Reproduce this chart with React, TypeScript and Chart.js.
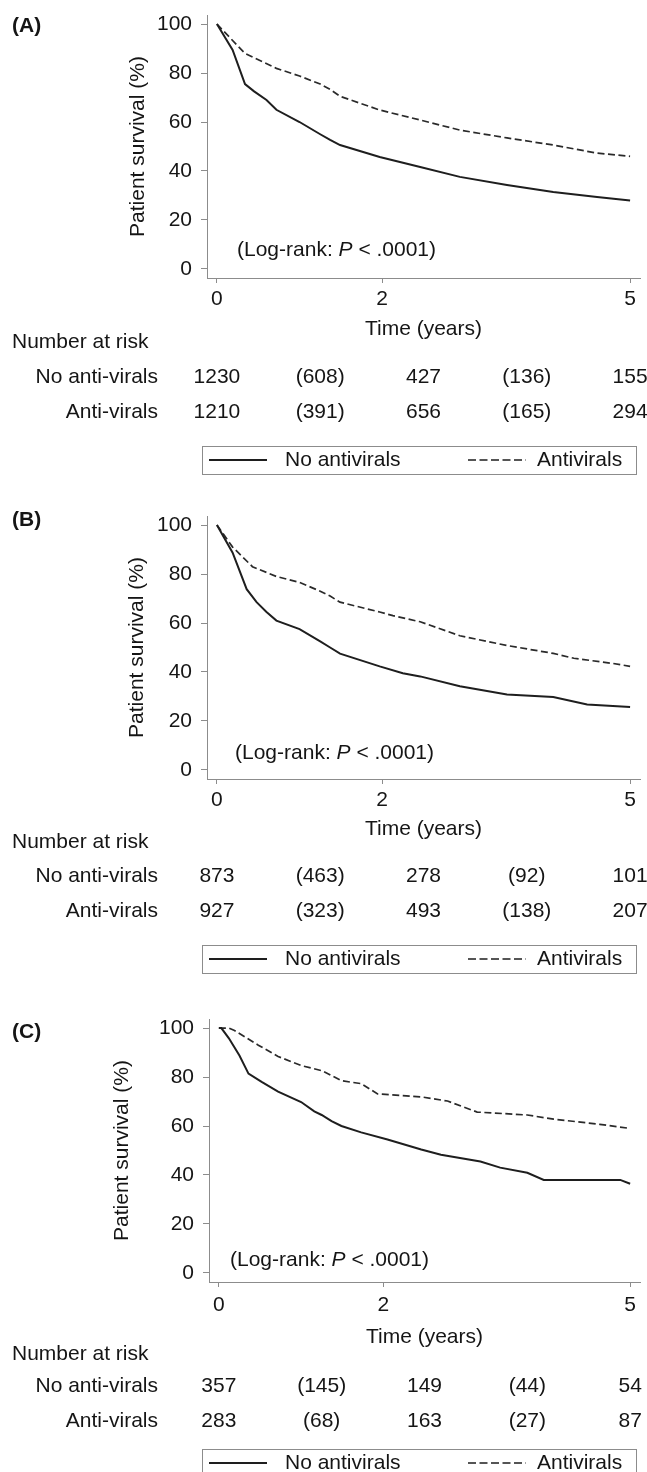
import React, { useEffect, useRef } from "react";
import { Chart, registerables } from "chart.js";

Chart.register(...registerables);

// ---------------- data ----------------
const xTickValues = [0, 2, 5];
const yTickValues = [0, 20, 40, 60, 80, 100];
const riskTimePoints = [0, 1.25, 2.5, 3.75, 5];
const bracketedColumns = [false, true, false, true, false];
const panelLabels = ["(A)", "(B)", "(C)"];
const seriesNames = ["No antivirals", "Antivirals"];
const riskRowNames = ["No anti-virals", "Anti-virals"];
const xAxisTitle = "Time (years)";
const yAxisTitle = "Patient survival (%)";
const riskHeader = "Number at risk";

// Panel A
const timesA_none = [0, 0.19, 0.34, 0.45, 0.6, 0.72, 1.0, 1.25, 1.37, 1.49, 1.97, 2.46, 2.94, 3.51, 4.07, 4.6, 5.0];
const survA_none = [100, 89.4, 75.5, 72.5, 69, 65, 60, 55, 52.7, 50.6, 45.7, 41.6, 37.6, 34.3, 31.4, 29.4, 27.9];
const timesA_anti = [0, 0.34, 0.72, 1.0, 1.25, 1.37, 1.49, 1.97, 2.46, 2.94, 3.51, 4.07, 4.6, 5.0];
const survA_anti = [100, 88, 81.9, 78.8, 75.5, 73.3, 70.5, 64.9, 60.8, 56.7, 53.5, 50.6, 47.3, 46];
const riskA_none = [1230, 608, 427, 136, 155];
const riskA_anti = [1210, 391, 656, 165, 294];

// Panel B
const timesB_none = [0, 0.19, 0.36, 0.48, 0.6, 0.72, 1.0, 1.25, 1.37, 1.49, 1.97, 2.25, 2.46, 2.94, 3.51, 4.07, 4.48, 5.0];
const survB_none = [100, 88.7, 73.8, 68.5, 64.5, 61, 57.5, 52.5, 50, 47.5, 42.3, 39.5, 38.2, 34.2, 30.8, 29.8, 26.7, 25.7];
const timesB_anti = [0, 0.19, 0.43, 0.72, 1.0, 1.25, 1.37, 1.49, 1.97, 2.13, 2.46, 2.94, 3.51, 4.07, 4.32, 4.79, 5.0];
const survB_anti = [100, 91, 83, 79, 76.6, 73, 71, 68.5, 64.5, 63, 60.5, 54.8, 50.8, 47.6, 45.6, 43.5, 42.3];
const riskB_none = [873, 463, 278, 92, 101];
const riskB_anti = [927, 323, 493, 138, 207];

// Panel C
const timesC_none = [0, 0.03, 0.12, 0.25, 0.36, 0.52, 0.72, 1.0, 1.16, 1.25, 1.37, 1.49, 1.73, 2.05, 2.46, 2.7, 3.18, 3.42, 3.75, 3.95, 4.88, 5.0];
const survC_none = [100, 100, 95.9, 88.8, 81.4, 78, 74, 69.8, 66, 64.5, 62, 60, 57.4, 54.5, 50.4, 48.3, 45.5, 43, 40.9, 38, 38, 36.4];
const timesC_anti = [0, 0.12, 0.19, 0.48, 0.72, 1.0, 1.25, 1.37, 1.49, 1.73, 1.93, 2.46, 2.78, 3.14, 3.75, 4.07, 4.63, 5.0];
const survC_anti = [100, 100, 99, 93, 88.4, 84.7, 82.6, 80.6, 78.5, 77.3, 73.1, 71.9, 70.2, 65.7, 64.5, 62.8, 60.7, 59];
const riskC_none = [357, 145, 149, 44, 54];
const riskC_anti = [283, 68, 163, 27, 87];

// ---------------- styling / layout ----------------
const FONT = "'Liberation Sans', Arial, Helvetica, sans-serif";
const TEXT = "#151515";
const AXIS = "#8c8c8c";
const FS = 21;

const panelData = [
  { label: panelLabels[0], t0: timesA_none, s0: survA_none, t1: timesA_anti, s1: survA_anti, r0: riskA_none, r1: riskA_anti },
  { label: panelLabels[1], t0: timesB_none, s0: survB_none, t1: timesB_anti, s1: survB_anti, r0: riskB_none, r1: riskB_anti },
  { label: panelLabels[2], t0: timesC_none, s0: survC_none, t1: timesC_anti, s1: survC_anti, r0: riskC_none, r1: riskC_anti },
];

const panelLayout = [
  { canvasTop: 0, canvasH: 495, areaTop: 15, axisY: 278, axisX: 207, letterY: 26, logX: 237, logY: 250, yTitleX: 138, tickPad: 3.4, timeY: 329, narY: 342, row1: 377, row2: 412, legTop: 446 },
  { canvasTop: 495, canvasH: 505, areaTop: 516, axisY: 779, axisX: 207, letterY: 520, logX: 235, logY: 753, yTitleX: 137, tickPad: 3.4, timeY: 829, narY: 842, row1: 876, row2: 911, legTop: 945 },
  { canvasTop: 1000, canvasH: 472, areaTop: 1019, axisY: 1282, axisX: 209, letterY: 1032, logX: 230, logY: 1260, yTitleX: 122, tickPad: 5.4, timeY: 1337, narY: 1354, row1: 1386, row2: 1421, legTop: 1449 },
];

function toPoints(ts: number[], ss: number[]) {
  return ts.map((t, i) => ({ x: t, y: ss[i] }));
}

function Panel({ index }: { index: number }) {
  const ref = useRef<HTMLCanvasElement | null>(null);
  const d = panelData[index];
  const L = panelLayout[index];

  useEffect(() => {
    if (!ref.current) return;
    const top = L.canvasTop;
    const font = (w = "normal", s = "normal") => `${s} ${w} ${FS}px ${FONT}`;

    const overlay = {
      id: "kmOverlay",
      afterDraw(chart: any) {
        const ctx = chart.ctx as CanvasRenderingContext2D;
        const xs = chart.scales.x;
        ctx.save();
        ctx.fillStyle = TEXT;
        ctx.textBaseline = "middle";

        // panel letter
        ctx.font = font("bold");
        ctx.textAlign = "left";
        ctx.fillText(d.label, 12, L.letterY - top);

        // log-rank annotation
        ctx.font = font();
        let x = L.logX;
        const y = L.logY - top;
        const p1 = "(Log-rank: ";
        ctx.fillText(p1, x, y);
        x += ctx.measureText(p1).width;
        ctx.font = font("normal", "italic");
        ctx.fillText("P", x, y);
        x += ctx.measureText("P").width;
        ctx.font = font();
        ctx.fillText(" < .0001)", x, y);

        // number at risk
        ctx.textAlign = "left";
        ctx.fillText(riskHeader, 12, L.narY - top);
        ctx.textAlign = "right";
        ctx.fillText(riskRowNames[0], 158, L.row1 - top);
        ctx.fillText(riskRowNames[1], 158, L.row2 - top);
        ctx.textAlign = "center";
        riskTimePoints.forEach((t, i) => {
          const px = xs.getPixelForValue(t);
          const f = (v: number) => (bracketedColumns[i] ? `(${v})` : String(v));
          ctx.fillText(f(d.r0[i]), px, L.row1 - top);
          ctx.fillText(f(d.r1[i]), px, L.row2 - top);
        });

        // legend box
        const lt = L.legTop - top;
        const lh = 28;
        const cy = lt + lh / 2;
        ctx.strokeStyle = AXIS;
        ctx.lineWidth = 1;
        ctx.strokeRect(202.5, lt + 0.5, 434, lh);
        ctx.strokeStyle = "#1e1e1e";
        ctx.lineWidth = 2;
        ctx.beginPath();
        ctx.moveTo(209, cy);
        ctx.lineTo(267, cy);
        ctx.stroke();
        ctx.lineWidth = 1.6;
        ctx.setLineDash([8, 3.5]);
        ctx.beginPath();
        ctx.moveTo(468, cy);
        ctx.lineTo(526, cy);
        ctx.stroke();
        ctx.setLineDash([]);
        ctx.textAlign = "left";
        ctx.fillText(seriesNames[0], 285, cy);
        ctx.fillText(seriesNames[1], 537, cy);
        ctx.restore();
      },
    };

    const chart = new Chart(ref.current, {
      type: "line",
      data: {
        datasets: [
          {
            label: seriesNames[0],
            data: toPoints(d.t0, d.s0),
            borderColor: "#1e1e1e",
            borderWidth: 2,
            pointRadius: 0,
            fill: false,
            tension: 0,
          },
          {
            label: seriesNames[1],
            data: toPoints(d.t1, d.s1),
            borderColor: "#2a2a2a",
            borderWidth: 1.7,
            borderDash: [7, 3.5],
            pointRadius: 0,
            fill: false,
            tension: 0,
          },
        ],
      },
      options: {
        animation: false,
        responsive: false,
        maintainAspectRatio: false,
        events: [],
        layout: { padding: { top: L.areaTop - top, left: 0, right: 7, bottom: 0 } },
        plugins: {
          legend: { display: false },
          tooltip: { enabled: false },
          title: { display: false },
        },
        scales: {
          x: {
            type: "linear",
            min: -0.12,
            max: 5.12,
            afterBuildTicks: (s: any) => {
              s.ticks = xTickValues.map((v) => ({ value: v }));
            },
            afterFit: (s: any) => {
              s.height = L.canvasH - (L.axisY - top);
              s.paddingLeft = 0;
              s.paddingRight = 0;
            },
            grid: { drawOnChartArea: false, drawTicks: true, tickLength: 5, color: AXIS, lineWidth: 1 },
            border: { display: true, color: AXIS, width: 1 },
            ticks: {
              padding: L.tickPad,
              color: TEXT,
              font: { size: FS, family: FONT },
              maxRotation: 0,
              autoSkip: false,
              callback: (v: any) => String(v),
            },
            title: {
              display: true,
              text: xAxisTitle,
              color: TEXT,
              font: { size: FS, family: FONT },
              padding: { top: 0, bottom: L.canvasH - (L.timeY - top) - FS * 0.6 },
            },
          },
          y: {
            type: "linear",
            min: -3.7,
            max: 103.7,
            afterBuildTicks: (s: any) => {
              s.ticks = yTickValues.map((v) => ({ value: v }));
            },
            afterFit: (s: any) => {
              s.width = L.axisX;
              s.paddingTop = 0;
              s.paddingBottom = 0;
            },
            grid: { drawOnChartArea: false, drawTicks: true, tickLength: 6, color: AXIS, lineWidth: 1 },
            border: { display: true, color: AXIS, width: 1 },
            ticks: {
              padding: 9,
              color: TEXT,
              font: { size: FS, family: FONT },
              autoSkip: false,
              callback: (v: any) => String(v),
            },
            title: {
              display: true,
              text: yAxisTitle,
              color: TEXT,
              font: { size: FS, family: FONT },
              padding: { top: L.yTitleX - FS * 0.6, bottom: 0 },
            },
          },
        },
      } as any,
      plugins: [overlay],
    });
    return () => chart.destroy();
  }, [index]);

  return (
    <canvas
      ref={ref}
      width={647}
      height={L.canvasH}
      style={{ position: "absolute", left: 0, top: L.canvasTop, width: 647, height: L.canvasH }}
    />
  );
}

export default function App() {
  return (
    <div
      style={{
        position: "absolute",
        left: 0,
        top: 0,
        width: 647,
        height: 1472,
        background: "#ffffff",
        overflow: "hidden",
      }}
    >
      {panelData.map((_, i) => (
        <Panel key={i} index={i} />
      ))}
    </div>
  );
}
